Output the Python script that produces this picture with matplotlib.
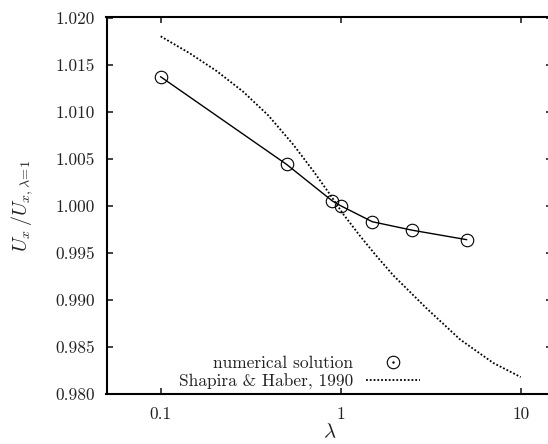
import matplotlib
matplotlib.use("Agg")
import matplotlib.pyplot as plt
from matplotlib.lines import Line2D
from matplotlib.legend_handler import HandlerTuple

plt.rcParams['font.family'] = 'serif'
plt.rcParams['font.serif'] = ['cmr10']
plt.rcParams['mathtext.fontset'] = 'cm'
plt.rcParams['axes.formatter.use_mathtext'] = True

# Numerical solution
num_lambda = [0.1, 0.5, 0.9, 1.0, 1.5, 2.5, 5.0]
num_values = [1.0137, 1.0044, 1.0005, 1.0000, 0.9983, 0.9974, 0.9964]

# Shapira & Haber, 1990
sh_lambda = [0.1, 0.145, 0.205, 0.288, 0.396, 0.545, 0.704, 0.872, 1.034,
             1.28, 1.55, 1.96, 3.0, 4.6, 7.04, 10.0]
sh_values = [1.0180, 1.0162, 1.0143, 1.0121, 1.0096, 1.0065, 1.0037, 1.0012,
             0.9991, 0.9968, 0.99485, 0.9926, 0.9891, 0.9858, 0.9833, 0.9818]

x_ticks = [0.1, 1, 10]
x_ticklabels = ['0.1', '1', '10']
y_ticks = [0.980, 0.985, 0.990, 0.995, 1.000, 1.005, 1.010, 1.015, 1.020]

W, H = 548, 444
fig = plt.figure(figsize=(W / 100, H / 100), dpi=100)
left_px, right_px, top_px, bot_px = 106.5, 552.4, 17.5, 394.0
ax = fig.add_axes([left_px / W, 1 - bot_px / H,
                   (right_px - left_px) / W, (bot_px - top_px) / H])

ax.plot(sh_lambda, sh_values, color='black', linestyle=(0, (1, 1.1)),
        linewidth=1.3, zorder=2)
ax.plot(num_lambda, num_values, color='black', linewidth=1.0, zorder=3)
ax.plot(num_lambda, num_values, linestyle='none', marker='o', markersize=9,
        markerfacecolor='none', markeredgecolor='black', markeredgewidth=0.8,
        zorder=4)

ax.set_xscale('log')
ax.set_xlim(0.05, 15)
ax.set_ylim(0.980, 1.020)
ax.set_xticks(x_ticks)
ax.set_xticklabels(x_ticklabels)
ax.xaxis.set_minor_locator(matplotlib.ticker.NullLocator())
ax.set_yticks(y_ticks)
ax.set_yticklabels([f'{v:.3f}' for v in y_ticks])
ax.tick_params(axis='both', which='major', direction='in', length=4, width=1.2,
               top=True, right=True, labelsize=12.5, pad=8, colors='#222222')
ax.tick_params(axis='x', pad=9)
for s in ax.spines.values():
    s.set_linewidth(1.5)

ax.set_xlabel(r'$\lambda$', fontsize=15, labelpad=1, color='#222222')
ax.set_ylabel(r'$U_x\,/U_{x,\lambda\!=\!1}$', fontsize=14.5, labelpad=15,
              color='#222222')

h_num = (Line2D([], [], linestyle='none', marker='o', markersize=9,
                markerfacecolor='none', markeredgecolor='black', markeredgewidth=0.8),
         Line2D([], [], linestyle='none', marker='.', markersize=1.5, color='black'))
h_sh = Line2D([], [], color='black', linestyle=(0, (1, 1.1)), linewidth=1.3)
leg = ax.legend([h_num, h_sh], ['numerical solution', 'Shapira & Haber, 1990'],
                handler_map={tuple: HandlerTuple(ndivide=1)},
                markerfirst=False, frameon=False, fontsize=12.5,
                loc='lower right', bbox_to_anchor=(420 / W, 1 - 390 / H),
                bbox_transform=fig.transFigure, borderpad=0, borderaxespad=0,
                handlelength=3.1, handletextpad=0.75, labelspacing=0.15,
                labelcolor='#222222')

fig.savefig('out.png', dpi=100)
